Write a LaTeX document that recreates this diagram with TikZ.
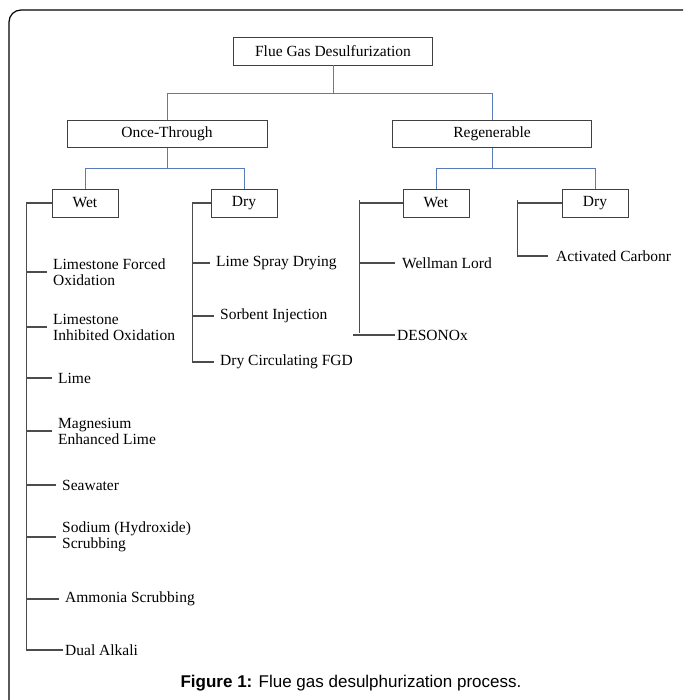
\documentclass[tikz,border=0pt]{standalone}
\usepackage{fontspec}
\setmainfont{Liberation Serif}
\newfontfamily\capfont{Liberation Sans}
\definecolor{linkblue}{RGB}{88,124,186}
\begin{document}
\begin{tikzpicture}[x=1pt,y=-1pt,
   every node/.style={font=\fontsize{15.5}{16}\selectfont},
   box/.style={draw=black!75,line width=0.9pt,minimum height=28pt,inner sep=0pt},
   blueline/.style={draw=linkblue,line width=0.9pt},
   treeline/.style={draw=black!70,line width=1.1pt},
   item/.style={anchor=west,align=left,inner sep=2pt}]
\useasboundingbox (0,0) rectangle (683,700);
\draw[line width=1.2pt,rounded corners=12pt] (9,700) -- (9,10) -- (683,10);
\node[box,minimum width=199pt] (fgd) at (333,51) {Flue Gas Desulfurization};
\foreach \x/\i/\w [count=\n] in {167/Once-Through/200,492/Regenerable/199}
   \node[box,minimum width=\w pt,minimum height=27pt] (B\n) at (\x,134) {\i};
\foreach \x/\i [count=\n] in {85/Wet,244/Dry,436/Wet,595/Dry}
   \node[box,minimum width=66pt] (S\n) at (\x,203) {\i};
\draw[blueline] (fgd.south) -- ++(0,28) -| (B1.north);
\draw[blueline] (fgd.south) -- ++(0,28) -| (B2.north);
\draw[blueline] (B1.south) -- ++(0,21) -| (S1.north);
\draw[blueline] (B1.south) -- ++(0,21) -| (S2.north);
\draw[blueline] (B2.south) -- ++(0,21) -| (S3.north);
\draw[blueline] (B2.south) -- ++(0,21) -| (S4.north);

\foreach \x/\y/\i [count=\n] in {51/272/{Limestone Forced\\Oxidation},51/327/{Limestone\\Inhibited Oxidation},
      56/378/Lime,56/431/{Magnesium\\Enhanced Lime},60/485/Seawater,60/537/{Sodium (Hydroxide)\\Scrubbing},
      63/599/Ammonia Scrubbing,63/650/Dual Alkali}
   \node[item] (W\n) at (\x,\y) {\i};
\draw[treeline] (S1.west) -- ++(-25,0) coordinate (ow) |- (W8.west);
\foreach \n in {1,...,7}
   \draw[treeline,shorten >=4pt] (ow |- W\n.west) -- (W\n.west);

\foreach \x/\y/\i [count=\n] in {214/263/Lime Spray Drying,218/316/Sorbent Injection,218/362/Dry Circulating FGD}
   \node[item] (D\n) at (\x,\y) {\i};
\draw[treeline,shorten >=4pt] (S2.west) -- ++(-18,0) coordinate (od) |- (D3.west);
\foreach \n in {1,2}
   \draw[treeline,shorten >=4pt] (od |- D\n.west) -- (D\n.west);

\node[item] (R1) at (400,263) {Wellman Lord};
\node[item] (R2) at (395,335) {DESONOx};
\draw[treeline] (S3.west) -- ++(-43,0) coordinate (rw);
\draw[treeline] ([yshift=3pt]rw) -- ([yshift=2pt]rw |- R2.west);
\draw[treeline,shorten >=5pt] (rw |- R1.west) -- (R1.west);
\draw[treeline] (R2.west) -- ++(-42,0);

\node[item] (A1) at (554,256) {Activated Carbonr};
\draw[treeline] (S4.west) -- ++(-44,0) coordinate (rd);
\draw[treeline,shorten >=6pt] ([yshift=3pt]rd) |- (A1.west);

\node[font=\capfont\fontsize{17}{20}\selectfont] (cap) at (351,683) {\textbf{Figure 1:} Flue gas desulphurization process.};
\end{tikzpicture}
\end{document}
